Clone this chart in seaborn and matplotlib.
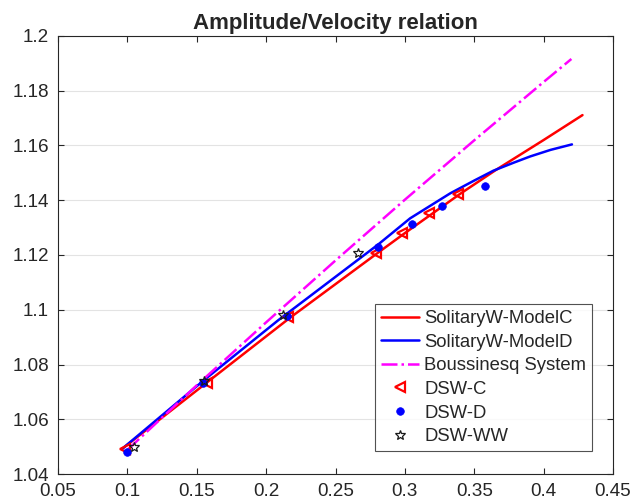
import seaborn as sns
import numpy as np
import matplotlib.pyplot as plt

### DATA
# solitary wave curves
c_model_x = [0.096, 0.157, 0.217, 0.280, 0.300, 0.320, 0.340, 0.366, 0.400, 0.428]
c_model_y = [1.0491, 1.0733, 1.0970, 1.1206, 1.1280, 1.1352, 1.1424, 1.1512, 1.1620, 1.1711]

d_model_x = [0.096, 0.155, 0.2088, 0.2809, 0.3038, 0.3326, 0.3500, 0.3638, 0.3783, 0.3903, 0.4050, 0.4204]
d_model_y = [1.0491, 1.0742, 1.0962, 1.1239, 1.1334, 1.1425, 1.1472, 1.1508, 1.1537, 1.1560, 1.1584, 1.1604]

bous_x = [0.10, 0.15, 0.20, 0.25, 0.30, 0.35, 0.40, 0.42]
bous_y = [1.0488, 1.0724, 1.0954, 1.1180, 1.1402, 1.1619, 1.1832, 1.1916]

# DSW measurements
dsw_c_x = [0.0983, 0.1572, 0.2160, 0.2790, 0.2978, 0.3177, 0.3386]
dsw_c_y = [1.0492, 1.0731, 1.0973, 1.1207, 1.1279, 1.1352, 1.1423]

dsw_d_x = [0.0995, 0.1548, 0.2149, 0.2809, 0.3050, 0.3271, 0.3579]
dsw_d_y = [1.0482, 1.0734, 1.0977, 1.1228, 1.1312, 1.1380, 1.1453]

dsw_ww_x = [0.105, 0.1555, 0.2124, 0.2661]
dsw_ww_y = [1.0500, 1.0738, 1.0981, 1.1208]

xticks = [0.05, 0.1, 0.15, 0.2, 0.25, 0.3, 0.35, 0.4, 0.45]
yticks = [1.04, 1.06, 1.08, 1.1, 1.12, 1.14, 1.16, 1.18, 1.2]

### STYLE
sns.set_theme(style='white')
plt.rcParams['font.family'] = ['Liberation Sans', 'DejaVu Sans']
plt.rcParams['axes.edgecolor'] = '#262626'
plt.rcParams['axes.linewidth'] = 0.8

fig = plt.figure(figsize=(6.31, 5.04), dpi=100)
ax = fig.add_axes([0.0919, 0.0595, 0.8796, 0.8691])

lw = 1.8
sns.lineplot(x=c_model_x, y=c_model_y, ax=ax, color='#ff0000', lw=lw, sort=False,
             label='SolitaryW-ModelC')
sns.lineplot(x=d_model_x, y=d_model_y, ax=ax, color='#0000ff', lw=lw, sort=False,
             label='SolitaryW-ModelD')
sns.lineplot(x=bous_x, y=bous_y, ax=ax, color='#ff00ff', lw=lw, sort=False,
             linestyle='-.', label='Boussinesq System')
sns.lineplot(x=dsw_c_x, y=dsw_c_y, ax=ax, color='#ff0000', sort=False, linestyle='',
             marker='<', markersize=7, markerfacecolor='none', markeredgecolor='#ff0000',
             markeredgewidth=1.6, label='DSW-C')
sns.lineplot(x=dsw_d_x, y=dsw_d_y, ax=ax, color='#0000ff', sort=False, linestyle='',
             marker='o', markersize=5.5, markerfacecolor='#0000ff', markeredgecolor='#0000ff',
             markeredgewidth=0.5, label='DSW-D')
sns.lineplot(x=dsw_ww_x, y=dsw_ww_y, ax=ax, color='k', sort=False, linestyle='',
             marker='*', markersize=7.5, markerfacecolor='none', markeredgecolor='k',
             markeredgewidth=0.9, label='DSW-WW')

ax.set_xlim(0.05, 0.45)
ax.set_ylim(1.04, 1.2)
ax.set_xticks(xticks)
ax.set_yticks(yticks)
ax.set_xticklabels([f'{v:g}' for v in xticks])
ax.set_yticklabels([f'{v:g}' for v in yticks])
ax.tick_params(direction='in', length=4.5, width=0.8, colors='#262626', labelsize=13.6,
               top=True, right=True, bottom=True, left=True, pad=6.5)
ax.yaxis.grid(True, color='#e3e3e3', lw=0.8)
ax.xaxis.grid(False)
ax.set_axisbelow(True)
for s in ax.spines.values():
    s.set_visible(True)
    s.set_color('#262626')

ax.set_title('Amplitude/Velocity relation', fontsize=16, fontweight='bold', pad=5)
ax.set_xlabel('')
ax.set_ylabel('')

leg = ax.legend(loc='lower right', bbox_to_anchor=(0.9616, 0.053), borderaxespad=0,
                fontsize=13.3, frameon=True, fancybox=False, edgecolor='#262626',
                handlelength=2.05, handletextpad=0.3, labelspacing=0.36,
                borderpad=0.3)
leg.get_frame().set_linewidth(0.8)

plt.savefig('out.png', dpi=100)
plt.close('all')
